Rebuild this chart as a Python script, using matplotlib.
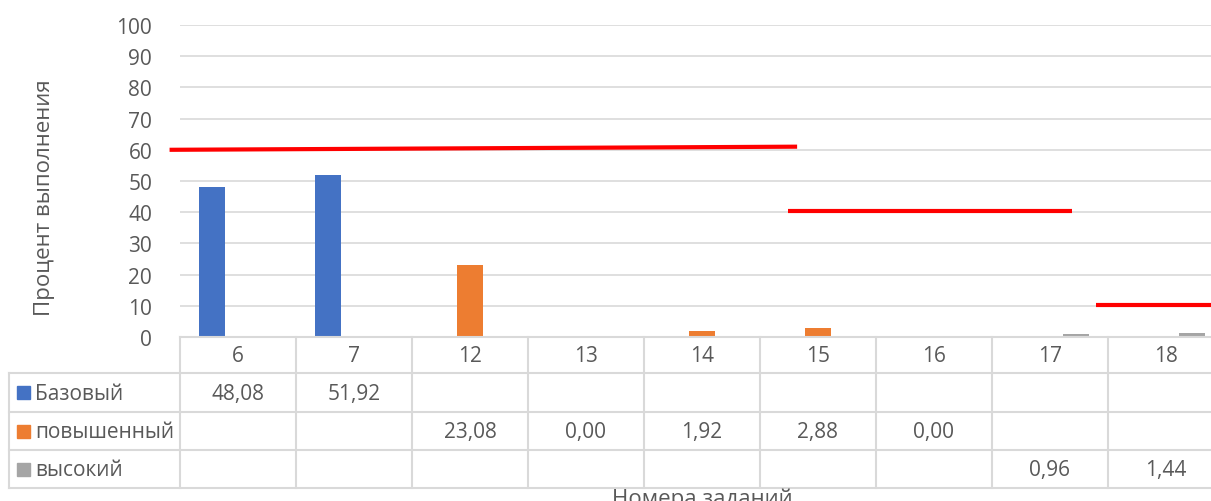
import matplotlib.pyplot as plt
from matplotlib.patches import Rectangle

plt.rcParams['font.family'] = ['Open Sans', 'DejaVu Sans']

# data
tasks = ['6', '7', '12', '13', '14', '15', '16', '17', '18']
series_names = ['Базовый', 'повышенный', 'высокий']
basic = [48.08, 51.92, None, None, None, None, None, None, None]
raised = [None, None, 23.08, 0.00, 1.92, 2.88, 0.00, None, None]
high = [None, None, None, None, None, None, None, 0.96, 1.44]
colors = ['#4472C4', '#ED7D31', '#A5A5A5']
# red threshold lines: level, start and end (in category units)
thr_levels = [60.0, 40.3, 10.3]
thr_levels_end = [61.0, 40.3, 10.3]
thr_start = [-0.59, 4.74, 7.40]
thr_end = [4.82, 7.19, 8.6]

W, H = 1211, 502
fig = plt.figure(figsize=(W / 100, H / 100), dpi=100)

# plot area in pixels
px_left, px_top, px_bottom = 180, 26, 338
cell_w = 116
px_right = px_left + cell_w * len(tasks)
ax = fig.add_axes([px_left / W, 1 - px_bottom / H,
                   (px_right - px_left) / W, (px_bottom - px_top) / H])
ax.set_xlim(-0.5, len(tasks) - 0.5)
ax.set_ylim(0, 100)

txt_col = '#595959'
grid_col = '#D9D9D9'
fs = 15

ax.set_yticks(range(0, 101, 10))
ax.tick_params(axis='y', length=0, labelsize=fs, labelcolor=txt_col, pad=20)
ax.set_xticks([])
ax.grid(axis='y', color=grid_col, lw=1.2)
ax.set_axisbelow(True)
for s in ax.spines.values():
    s.set_visible(False)

bw = 0.224
for k, vals in enumerate([basic, raised, high]):
    xs = [i + (k - 1) * bw for i, v in enumerate(vals) if v is not None]
    hs = [v for v in vals if v is not None]
    ax.bar(xs, hs, width=bw, color=colors[k], zorder=2)

for lv, lv2, x0, x1 in zip(thr_levels, thr_levels_end, thr_start, thr_end):
    ax.plot([x0, x1], [lv, lv2], color='#FF0000', lw=3, solid_capstyle='butt',
            zorder=3, clip_on=False)

# data table in pixel coordinates
tab = fig.add_axes([0, 0, 1, 1])
tab.set_xlim(0, W)
tab.set_ylim(H, 0)
tab.axis('off')
tab.patch.set_alpha(0)

row_y = [338, 374, 413, 451, 489]
tab_left = 9
lw_t = 1.5
# horizontal lines
tab.plot([px_left, px_right], [row_y[0]] * 2, color=grid_col, lw=lw_t)
for y in row_y[1:]:
    tab.plot([tab_left, px_right], [y, y], color=grid_col, lw=lw_t)
# vertical lines
tab.plot([tab_left, tab_left], [row_y[1], row_y[-1]], color=grid_col, lw=lw_t)
for i in range(len(tasks) + 1):
    x = px_left + i * cell_w
    tab.plot([x, x], [row_y[0], row_y[-1]], color=grid_col, lw=lw_t)

for i, t in enumerate(tasks):
    tab.text(px_left + (i + 0.5) * cell_w, (row_y[0] + row_y[1]) / 2 + 1, t,
             ha='center', va='center', fontsize=fs, color=txt_col)

for r, (name, vals) in enumerate(zip(series_names, [basic, raised, high])):
    yc = (row_y[r + 1] + row_y[r + 2]) / 2
    tab.add_patch(Rectangle((17, yc - 6.5), 13, 13, color=colors[r]))
    tab.text(35, yc + 1, name, ha='left', va='center', fontsize=fs, color=txt_col)
    for i, v in enumerate(vals):
        if v is None:
            continue
        tab.text(px_left + (i + 0.5) * cell_w, yc + 1, f'{v:.2f}'.replace('.', ','),
                 ha='center', va='center', fontsize=fs, color=txt_col)

tab.text(45, 198, 'Процент выполнения', rotation=90, ha='center', va='center',
         fontsize=16, color=txt_col)
tab.text((px_left + px_right) / 2, 499, 'Номера заданий', ha='center',
         va='center', fontsize=16, color=txt_col)

fig.savefig('out.png', dpi=100)
